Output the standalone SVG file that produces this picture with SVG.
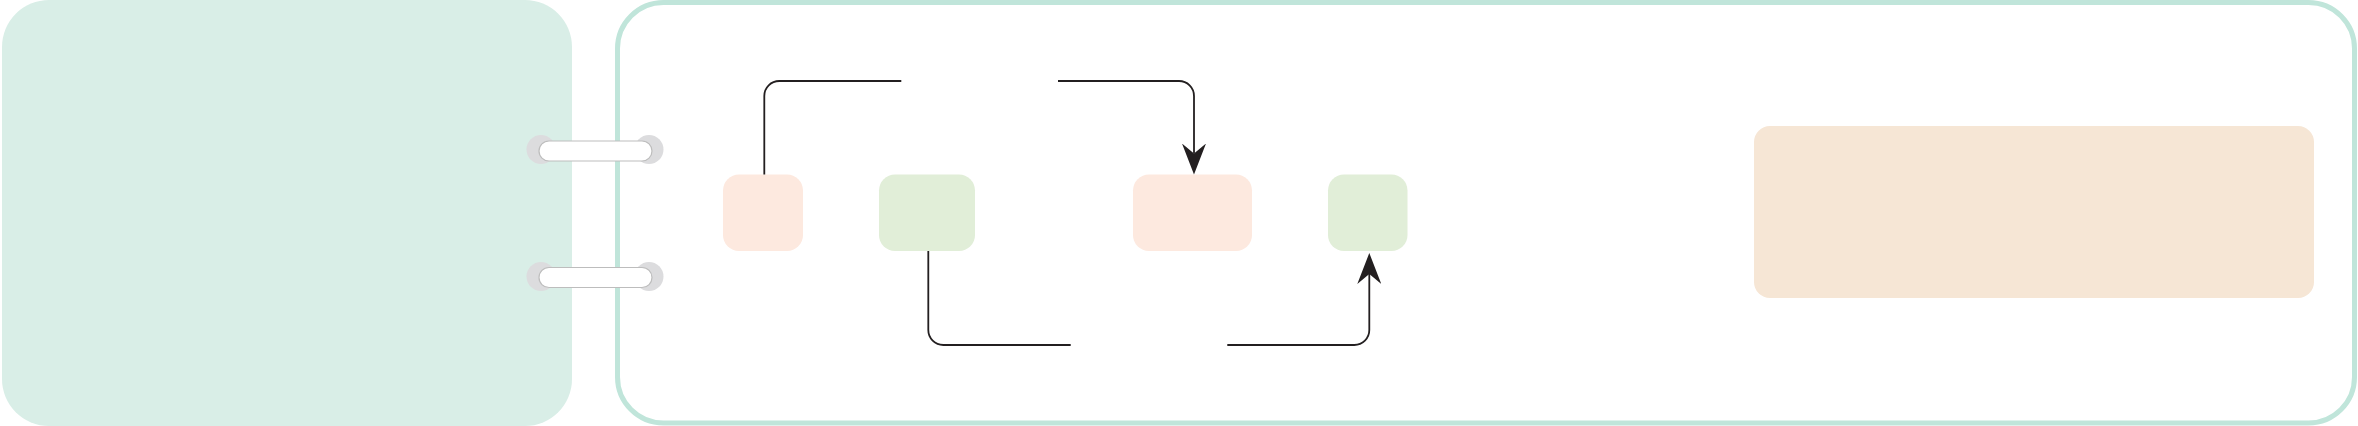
<svg xmlns="http://www.w3.org/2000/svg" width="2358" height="426" viewBox="0 0 2358 426">
<style>
.conn{fill:none;stroke:#231f20;stroke-width:1.8}
.hole{fill:#dcdcde}
.pill{fill:#ffffff;stroke:#bdbdbd;stroke-width:1.2}
.pink{fill:#fde9df}
.green{fill:#e1eed8}
</style>
<defs>
<marker id="arr" markerUnits="userSpaceOnUse" markerWidth="32" markerHeight="24" refX="10" refY="12" orient="auto" viewBox="0 0 32 24">
<path d="M31,12 L0,0 L10,12 L0,24 Z" fill="#231f20"/>
</marker>
</defs>
<g id="left-panel">
<rect x="2" y="0" width="570" height="426" rx="47" fill="#d9eee7"/>
</g>
<g id="right-panel">
<rect x="617.5" y="2.5" width="1737" height="420.5" rx="46" fill="#ffffff" stroke="#c0e5da" stroke-width="5"/>
</g>
<g id="ring-top">
<circle class="hole" cx="541" cy="149.5" r="14.5"/>
<circle class="hole" cx="649" cy="149.5" r="14.5"/>
<rect class="pill" x="539" y="141" width="113" height="20" rx="10"/>
</g>
<g id="ring-bottom">
<circle class="hole" cx="541" cy="276.5" r="14.5"/>
<circle class="hole" cx="649" cy="276.5" r="14.5"/>
<rect class="pill" x="539" y="267.5" width="113" height="20" rx="10"/>
</g>
<g id="node-pink-1"><rect class="pink" x="723" y="174.5" width="80" height="76.5" rx="16"/></g>
<g id="node-green-1"><rect class="green" x="879" y="174.5" width="96" height="76.5" rx="16"/></g>
<g id="node-pink-2"><rect class="pink" x="1133" y="174.5" width="119" height="76.5" rx="16"/></g>
<g id="node-green-2"><rect class="green" x="1328" y="174.5" width="79.5" height="76.5" rx="16"/></g>
<g id="node-orange"><rect x="1754" y="126" width="560" height="172" rx="16" fill="#f6e6d5"/></g>
<g id="connectors">
<path class="conn" d="M764.3,174.5 V96 A15,15 0 0 1 779.3,81 H901.3"/>
<path class="conn" d="M1058,81 H1179 A15,15 0 0 1 1194,96 V153.5" marker-end="url(#arr)"/>
<path class="conn" d="M928.3,251 V330 A15,15 0 0 0 943.3,345 H1070.7"/>
<path class="conn" d="M1227.3,345 H1354.3 A15,15 0 0 0 1369.3,330 V274" marker-end="url(#arr)"/>
</g>
</svg>
